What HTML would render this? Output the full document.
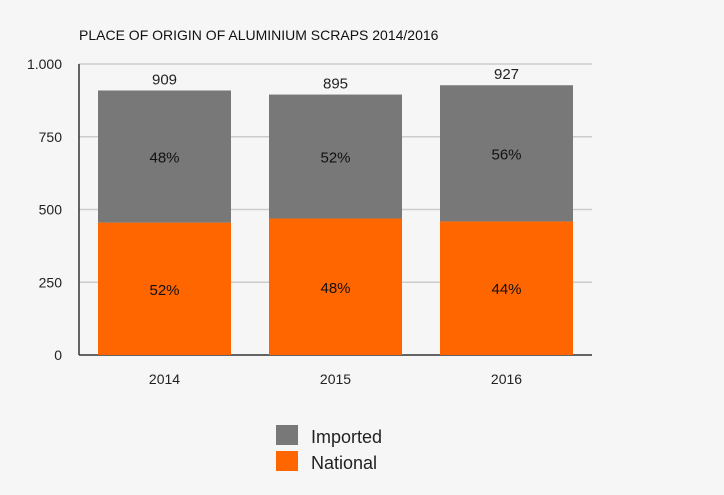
<!DOCTYPE html>
<html><head><meta charset="utf-8"><style>
body{margin:0;background:#f6f6f6;font-family:"Liberation Sans",sans-serif;}
svg{display:block}
</style></head><body>
<svg id="c" width="724" height="495">
<text x="79" y="40" font-size="14" fill="#111">PLACE OF ORIGIN OF ALUMINIUM SCRAPS 2014/2016</text>
<g id="grid"></g><g id="bars"></g>
<g>
<rect x="276" y="425" width="22" height="20" fill="#787878"/>
<text x="311" y="443" font-size="18" fill="#222">Imported</text>
<rect x="276" y="451" width="22" height="20" fill="#ff6600"/>
<text x="311" y="469" font-size="18" fill="#222">National</text>
</g>
</svg>
<script>
const categories=["2014","2015","2016"];
const national=[455,469,459];
const imported=[454,426,468];
const totals=[909,895,927];
const importedPct=["48%","52%","56%"];
const nationalPct=["52%","48%","44%"];
const yTicks=[0,250,500,750,1000];
const yTickLabels=["0","250","500","750","1.000"];
const NS="http://www.w3.org/2000/svg";
const x0=79,x1=592,yb=355,yt=64,ymax=1000;
const y=v=>yb-(v/ymax)*(yb-yt);
const band=(x1-x0)/categories.length, bw=133;
const xc=i=>x0+band*(i+0.5);
function mk(t,a,p){const e=document.createElementNS(NS,t);for(const k in a)e.setAttribute(k,a[k]);p.appendChild(e);return e;}
const g=document.getElementById('grid'),b=document.getElementById('bars');
yTicks.forEach((v,i)=>{
 const l=mk('line',{x1:x0,x2:x1,y1:y(v),y2:y(v),stroke:v===0?'#333':'#ccc','stroke-width':v===0?1.5:1.5},g);
 
 
 const t=mk('text',{x:62,y:y(v)+5,'text-anchor':'end','font-size':14,fill:'#222'},g);
 t.textContent=yTickLabels[i];
 
 
});
const ax=mk('line',{x1:x0,x2:x0,y1:yt,y2:yb,stroke:'#333','stroke-width':1.5},g);


categories.forEach((c,i)=>{
 const cx=xc(i),lx=cx-bw/2;
 const rn=mk('rect',{x:lx,y:y(national[i]),width:bw,height:yb-y(national[i]),fill:'#ff6600'},b);
 
 
 const top=national[i]+imported[i];
 const ri=mk('rect',{x:lx,y:y(top),width:bw,height:y(national[i])-y(top),fill:'#787878'},b);
 
 
 const t1=mk('text',{x:cx,y:(y(national[i])+yb)/2+6,'text-anchor':'middle','font-size':15,fill:'#111'},b);
 t1.textContent=nationalPct[i];
 
 
 const t2=mk('text',{x:cx,y:(y(top)+y(national[i]))/2+6,'text-anchor':'middle','font-size':15,fill:'#111'},b);
 t2.textContent=importedPct[i];
 
 
 const t3=mk('text',{x:cx,y:y(totals[i])-6,'text-anchor':'middle','font-size':15,fill:'#222'},b);
 t3.textContent=totals[i];
 
 
 const t4=mk('text',{x:cx,y:384,'text-anchor':'middle','font-size':14,fill:'#222'},b);
 t4.textContent=c;
 
 
});
</script>
</body></html>
